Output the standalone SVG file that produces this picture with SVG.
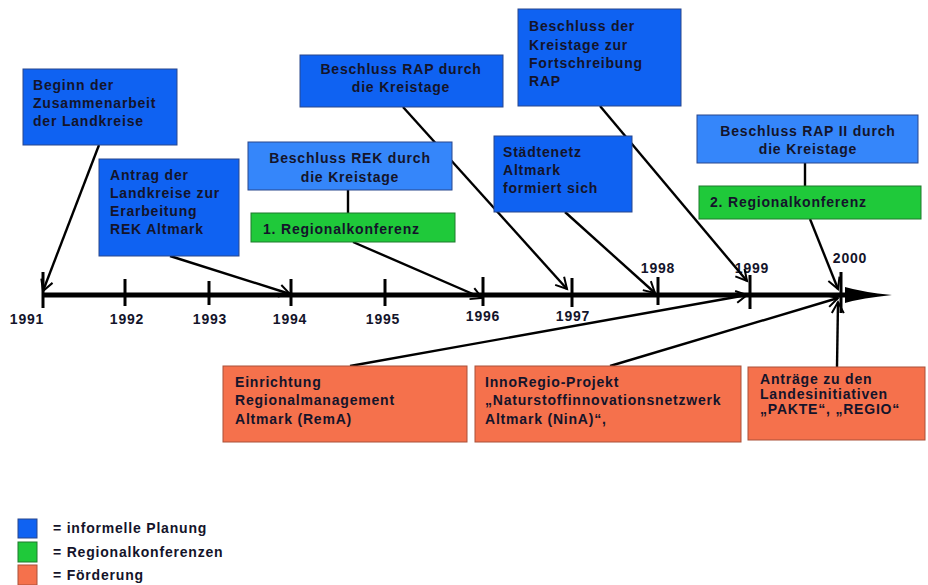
<svg xmlns="http://www.w3.org/2000/svg" width="928" height="585" viewBox="0 0 928 585">
<style>
.t{font-family:"Liberation Sans",Arial,sans-serif;font-weight:bold;font-size:14px;letter-spacing:0.8px;fill:#14142a}
.c{text-anchor:middle}
.b1{fill:#0f62f2;stroke:#28468c;stroke-width:1}
.b2{fill:#3586fa;stroke:#28468c;stroke-width:1}
.g{fill:#1fc93a;stroke:#1e7a2c;stroke-width:1}
.o{fill:#f5714c;stroke:#a95038;stroke-width:1}
.ln{stroke:#000;stroke-width:2.4;fill:none}
.ar{marker-end:url(#ah)}
.tk{stroke:#000;stroke-width:3}
</style>
<defs>
<marker id="ah" markerUnits="userSpaceOnUse" markerWidth="16" markerHeight="16" viewBox="-12 -8 14 16" refX="0" refY="0" orient="auto">
<path d="M-11,-6 L0,0 L-11,6" fill="none" stroke="#000" stroke-width="2"/>
</marker>
</defs>
<rect width="928" height="585" fill="#fff"/>

<g id="timeline">
<line x1="43" y1="295" x2="852" y2="295" stroke="#000" stroke-width="5"/>
<path d="M845,287 Q862,292 892,295 Q862,298 845,303 Z" fill="#000"/>
<line class="tk" x1="43" y1="272" x2="43" y2="308"/>
<line class="tk" x1="125" y1="279" x2="125" y2="306"/>
<line class="tk" x1="209" y1="281" x2="209" y2="305"/>
<line class="tk" x1="291" y1="279" x2="291" y2="306"/>
<line class="tk" x1="385" y1="279" x2="385" y2="306"/>
<line class="tk" x1="483" y1="277" x2="483" y2="306"/>
<line class="tk" x1="572" y1="278" x2="572" y2="307"/>
<line class="tk" x1="658" y1="277" x2="658" y2="305"/>
<line class="tk" x1="750" y1="275" x2="750" y2="309"/>
<line class="tk" x1="841" y1="272" x2="841" y2="313"/>
<text class="t c" x="27" y="324">1991</text>
<text class="t c" x="127" y="324">1992</text>
<text class="t c" x="210" y="324">1993</text>
<text class="t c" x="290" y="324">1994</text>
<text class="t c" x="383" y="324">1995</text>
<text class="t c" x="483" y="321">1996</text>
<text class="t c" x="573" y="321">1997</text>
<text class="t c" x="658" y="273">1998</text>
<text class="t c" x="752" y="273">1999</text>
<text class="t c" x="850" y="263">2000</text>
</g>

<g id="connectors">
<line class="ln" x1="348" y1="190" x2="348" y2="213"/>
<line class="ln" x1="805" y1="163" x2="805" y2="186"/>
<line class="ln ar" x1="99" y1="145" x2="43" y2="291"/>
<line class="ln ar" x1="170" y1="256" x2="290" y2="294"/>
<line class="ln ar" x1="353" y1="242" x2="482" y2="298"/>
<line class="ln ar" x1="403" y1="107" x2="567" y2="289"/>
<line class="ln ar" x1="565" y1="212" x2="655" y2="293"/>
<line class="ln ar" x1="600" y1="106" x2="747" y2="281"/>
<line class="ln ar" x1="810" y1="219" x2="838" y2="289"/>
<line class="ln ar" x1="350" y1="366" x2="747" y2="295"/>
<line class="ln ar" x1="610" y1="366" x2="838" y2="298"/>
<line class="ln ar" x1="837" y1="367" x2="838" y2="302"/>
</g>

<g id="n-beginn">
<rect class="b1" x="23" y="69" width="154" height="76"/>
<text class="t" x="33" y="90">Beginn der</text>
<text class="t" x="33" y="108">Zusammenarbeit</text>
<text class="t" x="33" y="126">der Landkreise</text>
</g>

<g id="n-antrag">
<rect class="b1" x="99" y="159" width="140" height="97"/>
<text class="t" x="110" y="180">Antrag der</text>
<text class="t" x="110" y="198">Landkreise zur</text>
<text class="t" x="110" y="216">Erarbeitung</text>
<text class="t" x="110" y="234">REK Altmark</text>
</g>

<g id="n-rek">
<rect class="b2" x="248" y="142" width="204" height="48"/>
<text class="t c" x="350" y="163">Beschluss REK durch</text>
<text class="t c" x="350" y="182">die Kreistage</text>
</g>

<g id="n-rk1">
<rect class="g" x="251" y="213" width="204" height="29"/>
<text class="t" x="263" y="234">1. Regionalkonferenz</text>
</g>

<g id="n-rap">
<rect class="b1" x="300" y="55" width="203" height="52"/>
<text class="t c" x="401" y="74">Beschluss RAP durch</text>
<text class="t c" x="401" y="92">die Kreistage</text>
</g>

<g id="n-fort">
<rect class="b1" x="518" y="9" width="163" height="97"/>
<text class="t" x="529" y="31">Beschluss der</text>
<text class="t" x="529" y="49.5">Kreistage zur</text>
<text class="t" x="529" y="68">Fortschreibung</text>
<text class="t" x="529" y="86">RAP</text>
</g>

<g id="n-staedte">
<rect class="b1" x="494" y="136" width="138" height="76"/>
<text class="t" x="503" y="157">Städtenetz</text>
<text class="t" x="503" y="175">Altmark</text>
<text class="t" x="503" y="193">formiert sich</text>
</g>

<g id="n-rap2">
<rect class="b2" x="697" y="115" width="221" height="48"/>
<text class="t c" x="808" y="136">Beschluss RAP II durch</text>
<text class="t c" x="808" y="154">die Kreistage</text>
</g>

<g id="n-rk2">
<rect class="g" x="699" y="186" width="222" height="33"/>
<text class="t" x="710" y="207">2. Regionalkonferenz</text>
</g>

<g id="n-rema">
<rect class="o" x="223" y="366" width="244" height="76"/>
<text class="t" x="235" y="387">Einrichtung</text>
<text class="t" x="235" y="405">Regionalmanagement</text>
<text class="t" x="235" y="424">Altmark (RemA)</text>
</g>

<g id="n-nina">
<rect class="o" x="475" y="366" width="266" height="76"/>
<text class="t" x="485" y="387">InnoRegio-Projekt</text>
<text class="t" x="485" y="405">„Naturstoffinnovationsnetzwerk</text>
<text class="t" x="485" y="424">Altmark (NinA)“,</text>
</g>

<g id="n-antraege">
<rect class="o" x="748" y="367" width="177" height="73"/>
<text class="t" x="760" y="384">Anträge zu den</text>
<text class="t" x="760" y="399">Landesinitiativen</text>
<text class="t" x="760" y="414">„PAKTE“, „REGIO“</text>
</g>

<g id="legend">
<rect class="b1" x="18" y="519" width="19" height="19"/>
<rect class="g" x="18" y="542" width="19" height="20"/>
<rect class="o" x="18" y="565" width="19" height="20"/>
<text class="t" x="53" y="533">= informelle Planung</text>
<text class="t" x="53" y="557">= Regionalkonferenzen</text>
<text class="t" x="53" y="580">= Förderung</text>
</g>
</svg>
